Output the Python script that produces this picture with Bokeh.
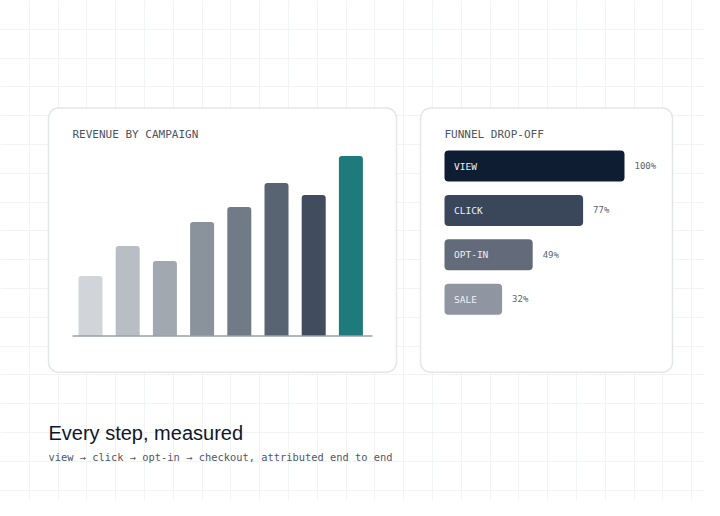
from bokeh.plotting import figure
from bokeh.models import Range1d, Grid, FixedTicker, ColumnDataSource
from bokeh.core.properties import value
from bokeh.embed import file_html
from bokeh.resources import INLINE

# ---------------- data ----------------
campaigns = ["C1", "C2", "C3", "C4", "C5", "C6", "C7", "C8"]
revenue = [40, 60, 50, 76, 86, 102, 94, 120]
revenue_colors = ["#d1d5da", "#b9bec5", "#a2a8b0", "#8a929c",
                  "#717b87", "#596473", "#414d5e", "#1f7a7b"]

funnel_stages = ["VIEW", "CLICK", "OPT-IN", "SALE"]
funnel_pct = [100, 77, 49, 32]
funnel_colors = ["#0f1d33", "#3a4659", "#636b7a", "#8f95a1"]

title_rev = "REVENUE BY CAMPAIGN"
title_funnel = "FUNNEL DROP-OFF"
headline = "Every step, measured"
subline = "view \u2192 click \u2192 opt-in \u2192 checkout, attributed end to end"

# ---------------- layout (pixels, origin top-left) ----------------
W, H = 704, 500
MONO = "DejaVu Sans Mono"


def lin_range(val_a, px_a, val_b, px_b, size, top_down=False):
    """Range1d spanning the whole frame so that val_a -> px_a and val_b -> px_b."""
    if top_down:
        px_a, px_b = size - px_a, size - px_b
    k = (val_b - val_a) / (px_b - px_a)
    start = val_a - px_a * k
    return Range1d(start=start, end=start + size * k)


p = figure(width=W, height=H, x_range=Range1d(0, W), y_range=Range1d(H, 0),
           output_backend="svg", toolbar_location=None,
           x_axis_type=None, y_axis_type=None,
           min_border=0, min_border_left=0, min_border_right=0,
           min_border_top=0, min_border_bottom=0,
           outline_line_color=None,
           background_fill_color="white", border_fill_color="white")

# faint background page grid
step = 28.8
xt = [step * k for k in range(1, 25)]
yt = [step * k for k in range(1, 18)]
for dim, ticks in ((0, xt), (1, yt)):
    g = Grid(dimension=dim, ticker=FixedTicker(ticks=ticks),
             grid_line_color="#f2f3f5", grid_line_width=1)
    p.add_layout(g)

# cards
p.quad(left=[48, 420], right=[396, 672], top=[107.5, 107.5], bottom=[371.7, 371.7],
       fill_color="white", line_color="#e4e6e9", line_width=1.5, border_radius=10)

# ---------------- revenue by campaign ----------------
BAR0_X, BAR_PITCH, BAR_W = 90, 37.2, 24
BASE_Y, PX_PER_UNIT = 335.5, 1.5
p.extra_x_ranges["rx"] = lin_range(0, BAR0_X, 1, BAR0_X + BAR_PITCH, W)
p.extra_y_ranges["ry"] = lin_range(0, BASE_Y, 100, BASE_Y - 100 * PX_PER_UNIT, H, top_down=True)

rev_src = ColumnDataSource(dict(idx=list(range(len(campaigns))), campaign=campaigns,
                                revenue=revenue, color=revenue_colors))
p.vbar(x="idx", top="revenue", bottom=0, width=BAR_W / BAR_PITCH, source=rev_src,
       x_range_name="rx", y_range_name="ry",
       fill_color="color", line_color=None, border_radius=(3, 3, 0, 0))
p.segment(x0=[72], x1=[372], y0=[0], y1=[0], y_range_name="ry",
          line_color="#9aa1ab", line_width=1.6)

p.text(x=[72], y=[133.5], text=[title_rev], text_font=value(MONO),
       text_font_size="11px", text_color="#4b5563", text_baseline="alphabetic")

# ---------------- funnel drop-off ----------------
F_X0, F_PX_PER_PCT = 444, 1.8
ROW0_Y, ROW_PITCH, ROW_H = 165.5, 44.4, 31
p.extra_x_ranges["fx"] = lin_range(0, F_X0, 100, F_X0 + 100 * F_PX_PER_PCT, W)
p.extra_y_ranges["fy"] = lin_range(0, ROW0_Y, 1, ROW0_Y + ROW_PITCH, H, top_down=True)

f_src = ColumnDataSource(dict(row=list(range(len(funnel_stages))), stage=funnel_stages,
                              pct=funnel_pct, label=[f"{v}%" for v in funnel_pct],
                              color=funnel_colors))
p.hbar(y="row", left=0, right="pct", height=ROW_H / ROW_PITCH, source=f_src,
       x_range_name="fx", y_range_name="fy",
       fill_color="color", line_color=None, border_radius=4)
p.text(x=0, y="row", text="stage", source=f_src, x_offset=9.5,
       x_range_name="fx", y_range_name="fy",
       text_font=value(MONO), text_font_size="9.5px", text_color="#eef1f5",
       text_baseline="middle", text_align="left")
p.text(x="pct", y="row", text="label", source=f_src, x_offset=10,
       x_range_name="fx", y_range_name="fy",
       text_font=value(MONO), text_font_size="9px", text_color="#5b6472",
       text_baseline="middle", text_align="left")

p.text(x=[444], y=[133.5], text=[title_funnel], text_font=value(MONO),
       text_font_size="11px", text_color="#4b5563", text_baseline="alphabetic")

# ---------------- footer ----------------
p.text(x=[48], y=[432.3], text=[headline], text_font=value("Liberation Sans"),
       text_font_size="20px", text_color="#0f172a", text_baseline="alphabetic")
p.text(x=[48], y=[456.5], text=[subline], text_font=value(MONO),
       text_font_size="10.4px", text_color="#4f5766", text_baseline="alphabetic")

open("out.html", "w").write(file_html(p, INLINE))
